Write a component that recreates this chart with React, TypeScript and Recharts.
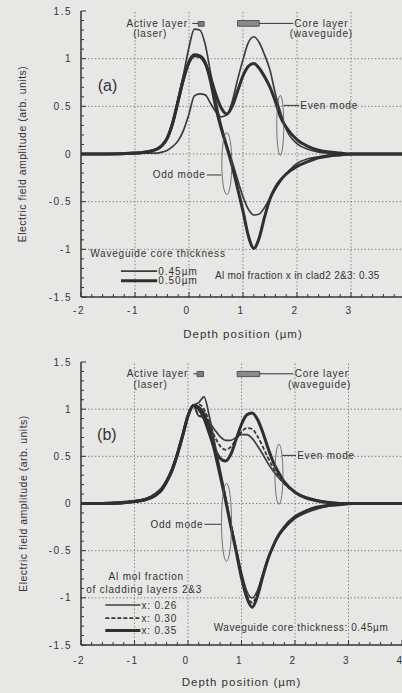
import React from "react";
import { LineChart, Line, XAxis, YAxis, ReferenceLine, ReferenceDot, ReferenceArea } from "recharts";

// depth position (µm), shared by every curve
const depth = [-2, -1.5, -1, -0.8, -0.6, -0.5, -0.4, -0.3, -0.2, -0.1, 0, 0.1, 0.2, 0.3, 0.4, 0.5, 0.6, 0.7, 0.8, 0.9, 1.0, 1.1, 1.2, 1.3, 1.4, 1.5, 1.6, 1.7, 1.8, 2.0, 2.2, 2.4, 2.6, 2.8, 3.0, 3.5, 4.0];

// (a) core thickness 0.45 / 0.50 µm
const evenA45 = [0, 0, 0.01, 0.02, 0.05, 0.09, 0.17, 0.33, 0.56, 0.79, 0.96, 1.03, 1.02, 0.95, 0.8, 0.62, 0.48, 0.42, 0.5, 0.66, 0.82, 0.92, 0.95, 0.9, 0.81, 0.7, 0.55, 0.38, 0.28, 0.15, 0.08, 0.04, 0.02, 0.01, 0, 0, 0];
const evenA50 = [0, 0, 0, 0.01, 0.01, 0.02, 0.04, 0.08, 0.14, 0.25, 0.42, 0.61, 0.63, 0.62, 0.53, 0.44, 0.39, 0.41, 0.55, 0.78, 0.99, 1.17, 1.23, 1.17, 1.04, 0.88, 0.63, 0.43, 0.26, 0.11, 0.05, 0.02, 0.01, 0, 0, 0, 0];
const oddA45 = [0, 0, 0.01, 0.02, 0.05, 0.09, 0.17, 0.33, 0.56, 0.79, 0.97, 1.04, 1.03, 0.96, 0.76, 0.48, 0.26, 0.07, -0.13, -0.36, -0.6, -0.86, -0.99, -0.88, -0.66, -0.47, -0.35, -0.27, -0.21, -0.13, -0.08, -0.04, -0.02, -0.01, 0, 0, 0];
const oddA50 = [0, 0, 0.01, 0.02, 0.05, 0.09, 0.17, 0.33, 0.58, 0.84, 1.12, 1.31, 1.3, 1.15, 0.85, 0.55, 0.3, 0.1, -0.08, -0.27, -0.45, -0.58, -0.64, -0.63, -0.56, -0.47, -0.37, -0.28, -0.21, -0.1, -0.05, -0.03, -0.01, 0, 0, 0, 0];

// (b) Al mol fraction 0.26 / 0.30 / 0.35
const evenB26 = [0, 0.01, 0.03, 0.05, 0.11, 0.16, 0.25, 0.37, 0.53, 0.73, 0.93, 1.04, 0.93, 0.92, 0.86, 0.78, 0.71, 0.67, 0.67, 0.7, 0.73, 0.73, 0.69, 0.61, 0.52, 0.42, 0.34, 0.27, 0.21, 0.12, 0.07, 0.04, 0.02, 0.01, 0, 0, 0];
const evenB30 = [0, 0, 0.02, 0.04, 0.1, 0.15, 0.24, 0.36, 0.52, 0.72, 0.93, 1.04, 0.93, 0.91, 0.83, 0.71, 0.61, 0.57, 0.6, 0.68, 0.76, 0.8, 0.79, 0.71, 0.6, 0.48, 0.37, 0.28, 0.21, 0.12, 0.06, 0.03, 0.01, 0, 0, 0, 0];
const evenB35 = [0, 0, 0.02, 0.04, 0.09, 0.14, 0.23, 0.35, 0.52, 0.72, 0.93, 1.04, 1.0, 0.9, 0.74, 0.58, 0.48, 0.45, 0.52, 0.68, 0.84, 0.94, 0.96, 0.89, 0.75, 0.58, 0.43, 0.32, 0.23, 0.12, 0.06, 0.03, 0.01, 0, 0, 0, 0];
const oddB26 = [0, 0.01, 0.03, 0.05, 0.11, 0.16, 0.25, 0.37, 0.53, 0.73, 0.93, 1.04, 1.07, 1.13, 0.92, 0.64, 0.36, 0.08, -0.21, -0.47, -0.73, -0.93, -1.0, -0.92, -0.74, -0.57, -0.44, -0.34, -0.27, -0.16, -0.1, -0.06, -0.03, -0.02, -0.01, 0, 0];
const oddB30 = [0, 0, 0.02, 0.04, 0.1, 0.15, 0.24, 0.36, 0.52, 0.72, 0.93, 1.04, 1.05, 1.0, 0.85, 0.6, 0.33, 0.06, -0.22, -0.49, -0.76, -0.97, -1.05, -0.95, -0.76, -0.58, -0.44, -0.34, -0.26, -0.15, -0.09, -0.05, -0.03, -0.01, 0, 0, 0];
const oddB35 = [0, 0, 0.02, 0.04, 0.09, 0.14, 0.23, 0.35, 0.52, 0.72, 0.93, 1.04, 1.02, 0.95, 0.78, 0.55, 0.3, 0.04, -0.24, -0.51, -0.79, -1.0, -1.1, -0.98, -0.77, -0.58, -0.44, -0.33, -0.25, -0.14, -0.08, -0.04, -0.02, -0.01, 0, 0, 0];

const xTicks = [-2, -1.8, -1.6, -1.4, -1.2, -1, -0.8, -0.6, -0.4, -0.2, 0, 0.2, 0.4, 0.6, 0.8, 1, 1.2, 1.4, 1.6, 1.8, 2, 2.2, 2.4, 2.6, 2.8, 3, 3.2, 3.4, 3.6, 3.8, 4];
const yTicks = [-1.5, -1.4, -1.3, -1.2, -1.1, -1, -0.9, -0.8, -0.7, -0.6, -0.5, -0.4, -0.3, -0.2, -0.1, 0, 0.1, 0.2, 0.3, 0.4, 0.5, 0.6, 0.7, 0.8, 0.9, 1, 1.1, 1.2, 1.3, 1.4, 1.5];
const xGrid = [-1, 0, 1, 2, 3];
const yGrid = [-1, -0.5, 0, 0.5, 1];

const dataA = depth.map((x, i) => ({ x, e45: evenA45[i], e50: evenA50[i], o45: oddA45[i], o50: oddA50[i] }));
const dataB = depth.map((x, i) => ({ x, e26: evenB26[i], e30: evenB30[i], e35: evenB35[i], o26: oddB26[i], o30: oddB30[i], o35: oddB35[i] }));

const BG = "#e7e7e5";
const INK = "#333333";
const FONT = "'Liberation Sans', Arial, sans-serif";

const THICK = { stroke: "#2f2f2f", strokeWidth: 3 };
const THIN = { stroke: "#3c3c3c", strokeWidth: 1.7 };
const DASHED = { stroke: "#363636", strokeWidth: 1.8, strokeDasharray: "4 2" };

const isInt = (v: number) => Math.abs(v - Math.round(v)) < 1e-6;
const isHalf = (v: number) => Math.abs(v * 2 - Math.round(v * 2)) < 1e-6;

// bottom ticks point inward; labels only on whole µm up to lastLabel
function bottomTick(labelDy: number, lastLabel: number) {
  return (props: any) => {
    const { x, y, payload } = props;
    const v = payload.value as number;
    const major = isInt(v);
    return (
      <g>
        <line x1={x} x2={x} y1={y} y2={y - (major ? 5 : 3)} stroke={INK} strokeWidth={1} />
        {major && v <= lastLabel && (
          <text x={x - 2} y={y + labelDy} textAnchor="middle" fontSize={10} letterSpacing={1.5} fill={INK} fontFamily={FONT}>
            {String(v)}
          </text>
        )}
      </g>
    );
  };
}

function TopTick(props: any) {
  const { x, y, payload } = props;
  const major = isInt(payload.value);
  return <line x1={x} x2={x} y1={y} y2={y + (major ? 5 : 3)} stroke={INK} strokeWidth={1} />;
}

function LeftTick(props: any) {
  const { x, y, payload } = props;
  const v = payload.value as number;
  const major = isHalf(v);
  return (
    <g>
      <line x1={x} x2={x + (major ? 5 : 3)} y1={y} y2={y} stroke={INK} strokeWidth={1} />
      {major && (
        <text x={x - 9} y={y + 3.5} textAnchor="end" fontSize={10} letterSpacing={1.5} fill={INK} fontFamily={FONT}>
          {String(v)}
        </text>
      )}
    </g>
  );
}

type NoteOpts = { text: string; size?: number; anchor?: "start" | "middle" | "end"; spacing?: number; dx?: number; dy?: number; rotate?: boolean };

function note(o: NoteOpts) {
  return (p: any) => {
    const x = p.cx + (o.dx ?? 0);
    const y = p.cy + (o.dy ?? 0);
    return (
      <text
        x={x}
        y={y}
        textAnchor={o.anchor ?? "start"}
        dominantBaseline="central"
        fontSize={o.size ?? 10}
        letterSpacing={o.spacing ?? 0.8}
        fill={INK}
        fontFamily={FONT}
        transform={o.rotate ? `rotate(-90 ${x} ${y})` : undefined}
      >
        {o.text}
      </text>
    );
  };
}

function ring(rx: number, ry: number) {
  return (p: any) => <ellipse cx={p.cx} cy={p.cy} rx={rx} ry={ry} fill="none" stroke="#555" strokeWidth={0.8} />;
}

function Note(x: number, y: number, o: NoteOpts) {
  return <ReferenceDot key={o.text + x + y} x={x} y={y} r={0} ifOverflow="visible" shape={note(o)} />;
}

function Ring(x: number, y: number, rx: number, ry: number) {
  return <ReferenceDot key={"r" + x + y} x={x} y={y} r={0} ifOverflow="visible" shape={ring(rx, ry)} />;
}

function Seg(x1: number, y1: number, x2: number, y2: number, style: any) {
  return (
    <ReferenceLine
      key={"s" + x1 + y1 + x2 + y2}
      segment={[{ x: x1, y: y1 }, { x: x2, y: y2 }]}
      ifOverflow="visible"
      {...style}
    />
  );
}

function frame(labelDy: number, lastLabel: number) {
  return [
    ...xGrid.map((v) => <ReferenceLine key={"gx" + v} x={v} stroke="#7a7a7a" strokeWidth={0.9} strokeDasharray="1.5 2" />),
    ...yGrid.map((v) => <ReferenceLine key={"gy" + v} y={v} stroke="#7a7a7a" strokeWidth={0.9} strokeDasharray="1.5 2" />),
    <XAxis
      key="xb"
      dataKey="x"
      type="number"
      domain={[-2, 4]}
      allowDataOverflow
      ticks={xTicks}
      interval={0}
      tickSize={0}
      tickMargin={0}
      tickLine={false}
      tick={bottomTick(labelDy, lastLabel)}
      axisLine={{ stroke: INK, strokeWidth: 1.5 }}
      height={48}
    />,
    <XAxis
      key="xt"
      xAxisId="top"
      orientation="top"
      type="number"
      domain={[-2, 4]}
      allowDataOverflow
      ticks={xTicks}
      interval={0}
      tickSize={0}
      tickMargin={0}
      tickLine={false}
      tick={TopTick}
      axisLine={{ stroke: INK, strokeWidth: 1.5 }}
      height={0}
    />,
    <YAxis
      key="yl"
      type="number"
      domain={[-1.5, 1.5]}
      allowDataOverflow
      ticks={yTicks}
      interval={0}
      tickSize={0}
      tickMargin={0}
      tickLine={false}
      tick={LeftTick}
      axisLine={{ stroke: INK, strokeWidth: 1.5 }}
      width={81}
    />,
  ];
}

function PanelA() {
  return (
    <LineChart width={440} height={345} data={dataA} margin={{ top: 11, right: 35, left: 0, bottom: 0 }}>
      {frame(16.5, 3)}
      <Line dataKey="e50" type="monotone" dot={false} isAnimationActive={false} {...THIN} />
      <Line dataKey="o50" type="monotone" dot={false} isAnimationActive={false} {...THIN} />
      <Line dataKey="e45" type="monotone" dot={false} isAnimationActive={false} {...THICK} />
      <Line dataKey="o45" type="monotone" dot={false} isAnimationActive={false} {...THICK} />

      <ReferenceArea x1={0.17} x2={0.28} y1={1.34} y2={1.39} fill="#7d7d7d" fillOpacity={1} stroke="#555" />
      <ReferenceArea x1={0.9} x2={1.3} y1={1.34} y2={1.4} fill="#8a8a8a" fillOpacity={1} stroke="#555" />
      {Seg(0.06, 1.37, 0.17, 1.37, { stroke: INK, strokeWidth: 1 })}
      {Seg(1.3, 1.37, 1.93, 1.37, { stroke: INK, strokeWidth: 1 })}
      {Note(-0.59, 1.37, { text: "Active layer", anchor: "middle" })}
      {Note(-0.72, 1.265, { text: "(laser)", anchor: "middle" })}
      {Note(2.45, 1.37, { text: "Core layer", anchor: "middle" })}
      {Note(2.45, 1.265, { text: "(waveguide)", anchor: "middle" })}
      {Note(-1.69, 0.72, { text: "(a)", size: 16, spacing: 0 })}

      {Ring(1.69, 0.3, 3.5, 30)}
      {Seg(1.75, 0.51, 2.04, 0.51, { stroke: INK, strokeWidth: 1 })}
      {Note(2.06, 0.51, { text: "Even mode" })}
      {Ring(0.7, -0.1, 5, 31)}
      {Seg(0.33, -0.22, 0.6, -0.22, { stroke: INK, strokeWidth: 1 })}
      {Note(0.31, -0.22, { text: "Odd mode", anchor: "end" })}

      {Note(-1.83, -1.04, { text: "Waveguide core thickness" })}
      {Seg(-1.26, -1.228, -0.59, -1.228, THIN)}
      {Seg(-1.26, -1.33, -0.59, -1.33, THICK)}
      {Note(-0.57, -1.228, { text: "0.45µm", spacing: 1 })}
      {Note(-0.57, -1.33, { text: "0.50µm", spacing: 1 })}
      {Note(0.48, -1.27, { text: "Al mol fraction x in clad2 2&3: 0.35", spacing: 0.3 })}

      {Note(-2, 0, { text: "Electric field amplitude (arb. units)", anchor: "middle", dx: -59, rotate: true, size: 10.5, spacing: 0.5 })}
      {Note(1, -1.5, { text: "Depth position (µm)", anchor: "middle", dy: 37, size: 11.5, spacing: 1 })}
    </LineChart>
  );
}

function PanelB() {
  return (
    <LineChart width={440} height={342} data={dataB} margin={{ top: 11, right: 38, left: 0, bottom: 0 }}>
      {frame(18.5, 4)}
      <Line dataKey="e26" type="monotone" dot={false} isAnimationActive={false} {...THIN} />
      <Line dataKey="e30" type="monotone" dot={false} isAnimationActive={false} {...DASHED} />
      <Line dataKey="e35" type="monotone" dot={false} isAnimationActive={false} {...THICK} />
      <Line dataKey="o26" type="monotone" dot={false} isAnimationActive={false} {...THIN} />
      <Line dataKey="o30" type="monotone" dot={false} isAnimationActive={false} {...DASHED} />
      <Line dataKey="o35" type="monotone" dot={false} isAnimationActive={false} {...THICK} />

      <ReferenceArea x1={0.17} x2={0.29} y1={1.345} y2={1.4} fill="#7d7d7d" fillOpacity={1} stroke="#555" />
      <ReferenceArea x1={0.92} x2={1.34} y1={1.345} y2={1.4} fill="#8a8a8a" fillOpacity={1} stroke="#555" />
      {Seg(0.1, 1.375, 0.17, 1.375, { stroke: INK, strokeWidth: 1 })}
      {Seg(1.34, 1.375, 1.97, 1.375, { stroke: INK, strokeWidth: 1 })}
      {Note(-0.57, 1.38, { text: "Active layer", anchor: "middle" })}
      {Note(-0.7, 1.265, { text: "(laser)", anchor: "middle" })}
      {Note(2.5, 1.38, { text: "Core layer", anchor: "middle" })}
      {Note(2.46, 1.265, { text: "(waveguide)", anchor: "middle" })}
      {Note(-1.7, 0.73, { text: "(b)", size: 16, spacing: 0 })}

      {Ring(1.7, 0.31, 4, 30)}
      {Seg(1.76, 0.51, 2.02, 0.51, { stroke: INK, strokeWidth: 1 })}
      {Note(2.04, 0.51, { text: "Even mode" })}
      {Ring(0.72, -0.2, 5, 39)}
      {Seg(0.31, -0.22, 0.62, -0.22, { stroke: INK, strokeWidth: 1 })}
      {Note(0.29, -0.22, { text: "Odd mode", anchor: "end" })}

      {Note(-0.78, -0.77, { text: "Al mol fraction", anchor: "middle" })}
      {Note(-0.82, -0.91, { text: "of cladding layers 2&3", anchor: "middle" })}
      {Seg(-1.545, -1.076, -0.89, -1.076, THIN)}
      {Seg(-1.545, -1.216, -0.89, -1.216, DASHED)}
      {Seg(-1.545, -1.345, -0.89, -1.345, THICK)}
      {Note(-0.87, -1.076, { text: "x:  0.26", spacing: 0.8 })}
      {Note(-0.87, -1.216, { text: "x:  0.30", spacing: 0.8 })}
      {Note(-0.87, -1.345, { text: "x:  0.35", spacing: 0.8 })}
      {Note(0.48, -1.31, { text: "Waveguide core thickness: 0.45µm", spacing: 0.6 })}

      {Note(-2, 0, { text: "Electric field amplitude (arb. units)", anchor: "middle", dx: -58, rotate: true, size: 10.5, spacing: 0.5 })}
      {Note(1, -1.5, { text: "Depth position (µm)", anchor: "middle", dy: 37, size: 11.5, spacing: 1 })}
    </LineChart>
  );
}

export default function App() {
  return (
    <div style={{ position: "fixed", left: 0, top: 0, width: 402, height: 693, overflow: "hidden", background: BG }}>
      <div style={{ position: "absolute", left: 0, top: 0 }}>
        <PanelA />
      </div>
      <div style={{ position: "absolute", left: 0, top: 351 }}>
        <PanelB />
      </div>
    </div>
  );
}
